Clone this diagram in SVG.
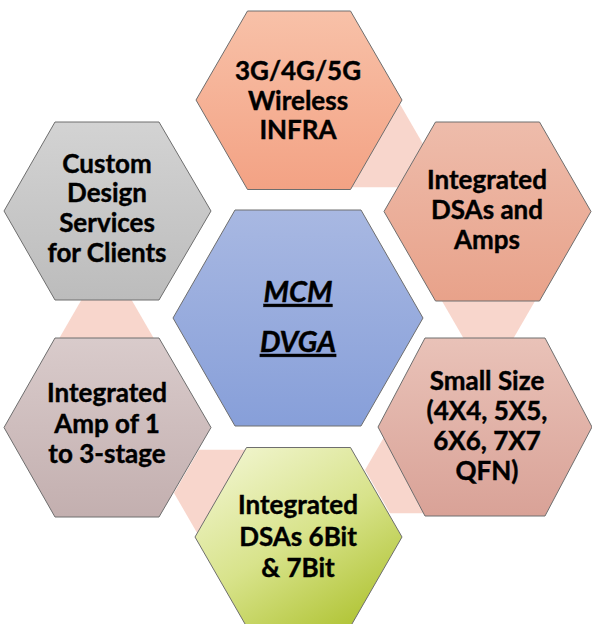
<svg xmlns="http://www.w3.org/2000/svg" width="592" height="624" viewBox="0 0 592 624">
<defs>
<linearGradient id="gTop" x1="0" y1="0" x2="0" y2="1"><stop offset="0" stop-color="#f8c1a8"/><stop offset="1" stop-color="#f3a284"/></linearGradient>
<linearGradient id="gRT" x1="0" y1="0" x2="0" y2="1"><stop offset="0" stop-color="#eebcab"/><stop offset="1" stop-color="#e8a28a"/></linearGradient>
<linearGradient id="gRB" x1="0" y1="0" x2="0" y2="1"><stop offset="0" stop-color="#e9c2b8"/><stop offset="1" stop-color="#d9a297"/></linearGradient>
<linearGradient id="gBot" x1="0.15" y1="0" x2="0.85" y2="1"><stop offset="0" stop-color="#f1f5cf"/><stop offset="0.5" stop-color="#d8e38b"/><stop offset="1" stop-color="#aec230"/></linearGradient>
<linearGradient id="gLB" x1="0" y1="0" x2="0" y2="1"><stop offset="0" stop-color="#d9cbcb"/><stop offset="1" stop-color="#c3afaf"/></linearGradient>
<linearGradient id="gLT" x1="0" y1="0" x2="0" y2="1"><stop offset="0" stop-color="#d3d3d3"/><stop offset="1" stop-color="#bcbcbc"/></linearGradient>
<linearGradient id="gC" x1="0" y1="0" x2="0" y2="1"><stop offset="0" stop-color="#a8b8e2"/><stop offset="1" stop-color="#879fd9"/></linearGradient>
</defs>
<style>
.hex{stroke:#6e6e6e;stroke-width:1}
.con{fill:#f8d6cc;stroke:none}
.t{font-family:Lato,"Open Sans","Liberation Sans",sans-serif;font-weight:bold;font-size:26px;fill:#000;text-anchor:middle;stroke:#000;stroke-width:0.4}
.c{font-size:29px;font-style:italic;text-decoration:underline}
</style>
<rect width="592" height="624" fill="#ffffff"/>
<g id="connectors">
<polygon class="con" points="323,144 348,100.7 398,100.7 423,144 398,187.3 348,187.3"/>
<polygon class="con" points="438.5,295 463.5,251.7 513.5,251.7 538.5,295 513.5,338.3 463.5,338.3"/>
<polygon class="con" points="365,470 390,426.7 440,426.7 465,470 440,513.3 390,513.3"/>
<polygon class="con" points="174,493 199,449.7 249,449.7 274,493 249,536.3 199,536.3"/>
<polygon class="con" points="56.5,343 81.5,299.7 131.5,299.7 156.5,343 131.5,386.3 81.5,386.3"/>
</g>
<g id="n-top">
<polygon class="hex" fill="url(#gTop)" points="196,100 247.5,11 350.5,11 402,100 350.5,189.5 247.5,189.5"/>
<text class="t" x="298" y="80">3G/4G/5G</text>
<text class="t" x="298" y="110">Wireless</text>
<text class="t" x="298" y="139">INFRA</text>
</g>
<g id="n-righttop">
<polygon class="hex" fill="url(#gRT)" points="384,211.5 435.5,122 539.5,122 591,211.5 539.5,301 435.5,301"/>
<text class="t" x="487" y="189">Integrated</text>
<text class="t" x="487" y="219">DSAs and</text>
<text class="t" x="487" y="249">Amps</text>
</g>
<g id="n-rightbottom">
<polygon class="hex" fill="url(#gRB)" points="378,427 425,338 545,338 592,427 545,516 425,516"/>
<text class="t" x="487" y="390">Small Size</text>
<text class="t" x="487" y="420">(4X4, 5X5,</text>
<text class="t" x="487" y="450">6X6, 7X7</text>
<text class="t" x="487" y="480">QFN)</text>
</g>
<g id="n-bottom">
<polygon class="hex" fill="url(#gBot)" points="195,537 246.5,447.5 350.5,447.5 402,537 350.5,626.5 246.5,626.5"/>
<text class="t" x="298" y="514">Integrated</text>
<text class="t" x="298" y="546">DSAs 6Bit</text>
<text class="t" x="298" y="577">&amp; 7Bit</text>
</g>
<g id="n-leftbottom">
<polygon class="hex" fill="url(#gLB)" points="4,427.5 55,338 159,338 211,427.5 159,517 55,517"/>
<text class="t" x="107" y="402">Integrated</text>
<text class="t" x="107" y="433">Amp of 1</text>
<text class="t" x="107" y="463">to 3-stage</text>
</g>
<g id="n-lefttop">
<polygon class="hex" fill="url(#gLT)" points="4,211 55,122 159,122 211,211 159,300 55,300"/>
<text class="t" x="107" y="173">Custom</text>
<text class="t" x="107" y="202">Design</text>
<text class="t" x="107" y="232">Services</text>
<text class="t" x="107" y="262">for Clients</text>
</g>
<g id="n-center">
<polygon class="hex" fill="url(#gC)" points="173,318 235,210 361,210 423,318 361,426 235,426"/>
<text class="t c" x="298" y="302">MCM</text>
<text class="t c" x="298" y="352">DVGA</text>
</g>
</svg>
